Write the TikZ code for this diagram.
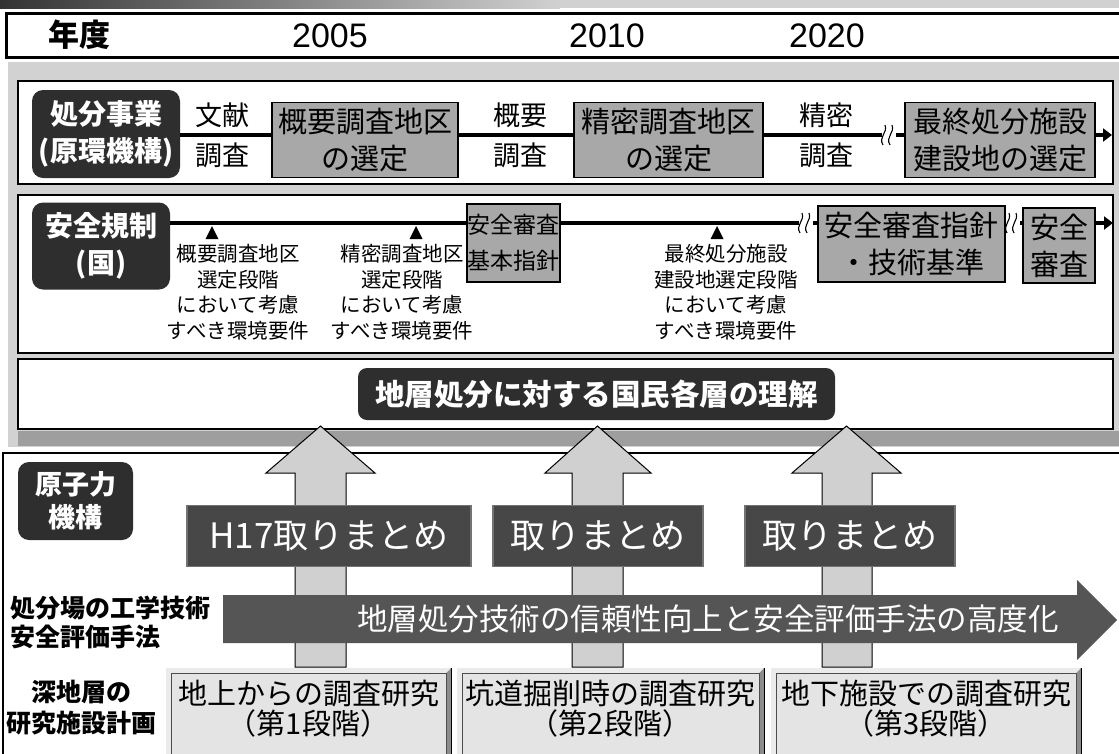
\documentclass[tikz,border=0pt]{standalone}
\usepackage{fontspec}
\setmainfont{Noto Sans CJK JP}
\newfontfamily\lat{Liberation Sans}
\usetikzlibrary{arrows.meta}
\definecolor{band}{HTML}{D2D2D2}
\definecolor{labdark}{HTML}{2E2E2E}
\definecolor{boxgray}{HTML}{A8A8A8}
\definecolor{shaft}{HTML}{D0D0D0}
\definecolor{sumbox}{HTML}{474747}
\definecolor{bigarr}{HTML}{555555}
\definecolor{resfill}{HTML}{E4E4E4}
\newcommand\brkmark[2]{%
  \fill[white] (#1-7,#2-11) rectangle (#1+7,#2+11);
  \draw[line width=1.1pt] (#1-6,#2+10) .. controls (#1-11,#2+2) and (#1-1,#2-2) .. (#1-4,#2-10);
  \draw[line width=1.1pt] (#1+1,#2+10) .. controls (#1-4,#2+2) and (#1+6,#2-2) .. (#1+3,#2-10);
}
\tikzset{
  every node/.style={inner sep=0pt, outer sep=0pt},
  darklab/.style={fill=labdark, rounded corners=11pt, text=white, align=center,
    font=\bfseries\fontsize{28}{37}\selectfont},
  graybox/.style={draw=black, line width=1.5pt, fill=boxgray, align=center},
  plain/.style={align=center, font=\fontsize{27}{40}\selectfont},
  small/.style={align=center, font=\fontsize{20.5}{25.5}\selectfont},
  tl/.style={line width=3.2pt},
  sumlab/.style={fill=sumbox, draw=black!55, line width=1.5pt, text=white,
    font=\fontsize{35}{40}\selectfont, minimum height=61pt},
  panel/.style={draw=black, line width=2.5pt, fill=white},
  upar/.style={fill=shaft, draw=black, line width=1pt},
  rowlab/.style={align=left, font=\bfseries\fontsize{25}{29}\selectfont},
  restext/.style={align=center, font=\fontsize{29}{30}\selectfont},
}
\begin{document}
\begin{tikzpicture}[x=1pt,y=-1pt]
\useasboundingbox (0,0) rectangle (1119,753);
\fill[white] (0,0) rectangle (1119,753);
% top gradient strip
\shade[left color=black!80, right color=black!18] (0,0) rectangle (560,8);
\fill[black!18] (560,0) rectangle (1119,8);
% year row
\draw[line width=3pt, fill=white] (6,13) rectangle (1130,57);
\node[font=\bfseries\fontsize{31}{31}\selectfont] (nendo) at (79,35) {年度};
\node[font=\lat\fontsize{34}{34}\selectfont] (y2005) at (330,36) {2005};
\node[font=\lat\fontsize{34}{34}\selectfont] (y2010) at (607,36) {2010};
\node[font=\lat\fontsize{34}{34}\selectfont] (y2020) at (827,36) {2020};
% gray band
\fill[band] (8,62) rectangle (1119,447);
\fill[black!38] (18,431) rectangle (1119,446);
\draw[panel] (18,81) rectangle (1113,184);
\draw[panel] (18,195) rectangle (1113,353);
\draw[panel] (18,359) rectangle (1113,429);

% ---------- row 1 ----------
\node[darklab, minimum width=148pt, minimum height=88pt] (lab1) at (106,134) {処分事業\\(原環機構)};
\coordinate (e1) at (1112,135);
\draw[tl, -{Triangle[length=9pt,width=13pt]}] (lab1.east |- e1) -- (e1);
\node[plain] (bunken) at (222,135) {文献\\調査};
\node[graybox, minimum width=186pt, minimum height=75pt, font=\fontsize{29}{37}\selectfont] (boxA) at (365,140) {概要調査地区\\の選定};
\node[plain] (gaiyo) at (520,135) {概要\\調査};
\node[graybox, minimum width=189pt, minimum height=75pt, font=\fontsize{29}{37}\selectfont] (boxB) at (668.5,140) {精密調査地区\\の選定};
\node[plain] (seimitsu) at (826,135) {精密\\調査};
\brkmark{889}{135}
\node[graybox, minimum width=190pt, minimum height=75pt, font=\fontsize{29}{37}\selectfont] (boxC) at (1000,140) {最終処分施設\\建設地の選定};

% ---------- row 2 ----------
\node[darklab, minimum width=138pt, minimum height=87pt] (lab2) at (101,246) {安全規制\\(国)};
\coordinate (e2) at (1113,223);
\draw[tl, -{Triangle[length=9pt,width=13pt]}] (lab2.east |- e2) -- (e2);
\node[graybox, minimum width=93pt, minimum height=78pt, font=\fontsize{23}{36}\selectfont] (boxD) at (513.5,243) {安全審査\\基本指針};
\brkmark{806}{223}
\node[graybox, minimum width=187pt, minimum height=76pt, font=\fontsize{29}{37}\selectfont] (boxE) at (911.5,244) {安全審査指針\\・技術基準};
\brkmark{1013}{223}
\node[graybox, minimum width=72pt, minimum height=75pt, font=\fontsize{29}{37}\selectfont] (boxF) at (1059,245.5) {安全\\審査};
\foreach \tx in {212,416,717}{
  \fill (\tx,226) -- (\tx-6.5,239) -- (\tx+6.5,239) -- cycle;
}
\node[small] (req1) at (238,292) {概要調査地区\\選定段階\\において考慮\\すべき環境要件};
\node[small] (req2) at (402,292) {精密調査地区\\選定段階\\において考慮\\すべき環境要件};
\node[small] (req3) at (726,292) {最終処分施設\\建設地選定段階\\において考慮\\すべき環境要件};

% ---------- row 3 ----------
\node[darklab, minimum width=477pt, minimum height=52pt, rounded corners=9pt, font=\bfseries\fontsize{29.5}{30}\selectfont] (rikai) at (596.5,394) {地層処分に対する国民各層の理解};

% ---------- lower panel ----------
\draw[panel] (3,453) rectangle (1130,760);
\node[darklab, minimum width=115pt, minimum height=78pt, font=\bfseries\fontsize{27}{33}\selectfont] (jaea) at (75.5,501) {原子力\\機構};
% up arrows
\filldraw[upar] (295,667) -- (295,473) -- (266,473) -- (320.5,426) -- (375,473) -- (346,473) -- (346,667) -- cycle;
\filldraw[upar] (572,667) -- (572,473) -- (545,473) -- (597.5,426) -- (651,473) -- (623,473) -- (623,667) -- cycle;
\filldraw[upar] (822,667) -- (822,473) -- (792,473) -- (846.5,426) -- (901,473) -- (872,473) -- (872,667) -- cycle;
% summary labels
\node[sumlab, minimum width=284pt] (sum1) at (329,536) {H17取りまとめ};
\node[sumlab, minimum width=210pt] (sum2) at (598,536) {取りまとめ};
\node[sumlab, minimum width=210pt] (sum3) at (850,536) {取りまとめ};
% big arrow
\fill[bigarr] (223,595) -- (1077,595) -- (1077,580) -- (1117,620) -- (1077,660) -- (1077,643) -- (223,643) -- cycle;
\node[text=white, font=\fontsize{30.5}{31}\selectfont] (tech) at (708,619) {地層処分技術の信頼性向上と安全評価手法の高度化};
% row labels
\node[rowlab, anchor=west] (eng) at (10,622) {処分場の工学技術\\安全評価手法};
\node[align=center, font=\bfseries\fontsize{25}{31}\selectfont] (deep) at (81,708) {深地層の\\研究施設計画};
% research boxes
\foreach \xa/\xb/\nm/\txt in {166/451/res1/{地上からの調査研究\\（第1段階）},
                             457/764/res2/{坑道掘削時の調査研究\\（第2段階）},
                             771/1081/res3/{地下施設での調査研究\\（第3段階）}}{
  \filldraw[fill=black!45, draw=black, line width=1pt] (\xa,668) rectangle (\xb,758);
  \fill[black!8] (\xa,668) -- (\xb,668) -- (\xb-5,673) -- (\xa+5,673) -- (\xa+5,758) -- (\xa,758) -- cycle;
  \filldraw[fill=resfill, draw=black!70, line width=0.8pt] (\xa+5,673) rectangle (\xb-5,758);
  \node[restext] (\nm) at ({(\xa+\xb)/2},709) {\txt};
}
\end{tikzpicture}
\end{document}
